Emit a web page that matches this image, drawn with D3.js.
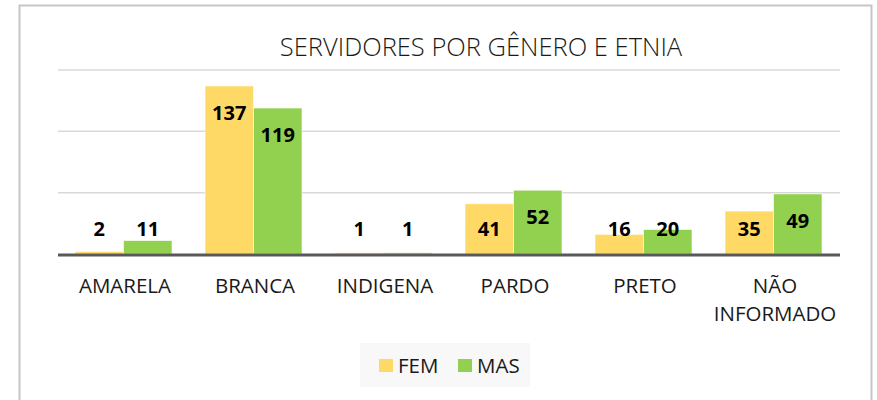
<!DOCTYPE html>
<html>
<head>
<meta charset="utf-8">
<script src="https://cdn.jsdelivr.net/npm/d3@7"></script>
<style>
  body { margin: 0; background: #fff; }
  svg { display: block; font-family: "Open Sans", "Noto Sans", sans-serif; }
</style>
</head>
<body>
<svg id="chart" width="877" height="400"></svg>
<script>
// data
let categories = ["AMARELA", "BRANCA", "INDIGENA", "PARDO", "PRETO", "NÃO INFORMADO"];
let fem = [2, 137, 1, 41, 16, 35];
let mas = [11, 119, 1, 52, 20, 49];
let seriesNames = ["FEM", "MAS"];
let yTicks = [0, 50, 100, 150];
let colors = ["#FFD966", "#92D050"];

let svg = d3.select("#chart");

// frame of the chart
svg.append("path")
    .attr("d", "M19.5,401 V5.5 H871.5 V401")
    .attr("fill", "none")
    .attr("stroke", "#c6c6c6")
    .attr("stroke-width", 2);

svg.append("text")
    .attr("x", 481)
    .attr("y", 56)
    .attr("text-anchor", "middle")
    .attr("font-size", 25.5)
    .attr("font-weight", 300)
    .attr("fill", "#1a1a1a")
    .text("SERVIDORES POR GÊNERO E ETNIA");

let x = d3.scaleBand()
    .domain(categories)
    .range([60, 840])
    .paddingInner(0.254)
    .paddingOuter(0.127);

let x1 = d3.scaleBand()
    .domain(seriesNames)
    .range([0, x.bandwidth()]);

let y = d3.scaleLinear()
    .domain([0, 150])
    .range([254, 70]);

// gridlines
svg.append("g")
    .selectAll("line")
    .data(yTicks.filter(d => d > 0))
    .enter().append("line")
    .attr("x1", 58)
    .attr("x2", 840)
    .attr("y1", d => y(d))
    .attr("y2", d => y(d))
    .attr("stroke", "#d9d9d9")
    .attr("stroke-width", 1.5);

let rows = categories.map((c, i) => ({cat: c, values: [fem[i], mas[i]]}));

let groups = svg.append("g")
    .selectAll("g")
    .data(rows)
    .enter().append("g")
    .attr("transform", d => "translate(" + (x(d.cat) - 1.5) + ",0)");

groups.selectAll("rect")
    .data(d => d.values.map((v, j) => ({name: seriesNames[j], value: v, j: j})))
    .enter().append("rect")
    .attr("x", d => x1(d.name))
    .attr("y", d => y(d.value))
    .attr("width", x1.bandwidth())
    .attr("height", d => y(0) - y(d.value))
    .attr("fill", d => colors[d.j])
    .attr("stroke", "#ffffff")
    .attr("stroke-opacity", 0.6)
    .attr("stroke-width", 1);

// value labels (inside end, kept above the axis)
groups.selectAll("text")
    .data(d => d.values.map((v, j) => ({name: seriesNames[j], value: v})))
    .enter().append("text")
    .attr("x", d => x1(d.name) + x1.bandwidth() / 2)
    .attr("y", d => Math.min(y(d.value) + 27, 229))
    .attr("dy", "0.36em")
    .attr("text-anchor", "middle")
    .attr("font-size", 20)
    .attr("font-weight", "bold")
    .attr("fill", "#000")
    .text(d => d.value);

// axis line
svg.append("line")
    .attr("x1", 58)
    .attr("x2", 840)
    .attr("y1", y(0) + 1)
    .attr("y2", y(0) + 1)
    .attr("stroke", "#595959")
    .attr("stroke-width", 3);

// category labels, wrapped like the original
let catText = svg.append("g")
    .selectAll("text")
    .data(categories)
    .enter().append("text")
    .attr("x", d => x(d) + x.bandwidth() / 2)
    .attr("y", 293)
    .attr("text-anchor", "middle")
    .attr("font-size", 20.5)
    .attr("fill", "#1a1a1a");

catText.each(function(d) {
    let words = d.split(" ");
    let t = d3.select(this);
    words.forEach((w, i) => {
        t.append("tspan")
            .attr("x", x(d) + x.bandwidth() / 2)
            .attr("dy", i === 0 ? 0 : 28)
            .text(w);
    });
});

// legend
let legend = svg.append("g");
legend.append("rect")
    .attr("x", 360)
    .attr("y", 343)
    .attr("width", 170)
    .attr("height", 44)
    .attr("fill", "#f8f8f8");

let item = legend.selectAll("g")
    .data(seriesNames)
    .enter().append("g")
    .attr("transform", (d, i) => "translate(" + (379 + i * 79) + ",359)");

item.append("rect")
    .attr("width", 14)
    .attr("height", 13)
    .attr("fill", (d, i) => colors[i]);

item.append("text")
    .attr("x", 19)
    .attr("y", 7)
    .attr("dy", "0.36em")
    .attr("font-size", 20.5)
    .attr("fill", "#1a1a1a")
    .text(d => d);
</script>
</body>
</html>
